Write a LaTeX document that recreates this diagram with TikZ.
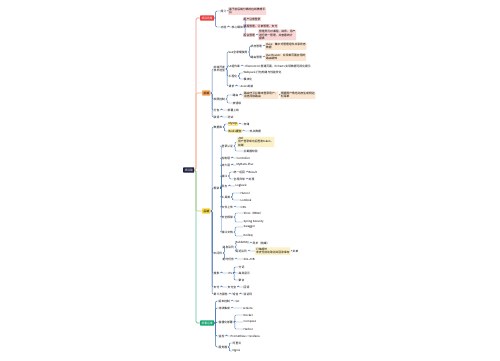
\documentclass[tikz,border=0pt]{standalone}
\usepackage{fontspec}
\newfontfamily\cjk{Noto Sans CJK SC}
\definecolor{rootc}{HTML}{1B1E3C}
\definecolor{redc}{HTML}{E83E3E}
\definecolor{orgc}{HTML}{F5A05A}
\definecolor{yelc}{HTML}{F6D33C}
\definecolor{grnc}{HTML}{16A571}
\definecolor{linkc}{HTML}{3F6DAE}
\definecolor{redl}{HTML}{FBD6D6}
\definecolor{orgl}{HTML}{FCE6CF}
\definecolor{yell}{HTML}{FCF1C6}
\definecolor{redt}{HTML}{EE9090}
\definecolor{orgt}{HTML}{F2B88A}
\definecolor{yelt}{HTML}{E3CC66}
\definecolor{grnt}{HTML}{5DBF97}
\tikzset{
  every node/.style={font=\cjk\fontsize{2.8}{3.3}\selectfont, inner sep=0.5pt, anchor=west},
  topic/.style={inner sep=1.3pt, rounded corners=0.5pt},
  leaf/.style={align=left, inner sep=0.8pt, rounded corners=0.4pt},
  link/.style={draw=linkc, line width=0.45pt, rounded corners=1pt},
  trunk/.style={line width=0.8pt, rounded corners=1.5pt},
}
\begin{document}
\begin{tikzpicture}[x=1pt,y=-1pt]
\useasboundingbox[fill=white] (0,0) rectangle (500,360);
% root and main topics
\node[topic, fill=rootc, text=white] (root) at (183,170) {项目篇};
\node[topic, fill=redc, text=white] (bj) at (200,18) {项目背景};
\node[topic, fill=orgc] (qd) at (202,93) {前端};
\node[topic, fill=yelc] (hd) at (202,211) {后端};
\node[topic, fill=grnc, text=white] (yw) at (200,323) {部署运维};
\draw[trunk, redt] (root.east) -- ++(1.5,0) |- (bj.west);
\draw[trunk, orgt] (root.east) -- ++(1.5,0) |- (qd.west);
\draw[trunk, yelt] (root.east) -- ++(1.5,0) |- (hd.west);
\draw[trunk, grnt] (root.east) -- ++(1.5,0) |- (yw.west);

% project background
\node (r1) at (220,11) {简介};
\node[leaf, fill=redl] (r1a) at (228,11) {基于前后端分离的在线教育平\\台};
\node (r2) at (220,27) {功能};
\node (r2a) at (231,27) {核心模块};
\node[fill=redl] (r2a1) at (243,19) {用户注册登录};
\node[fill=redl] (r2a2) at (243,26) {课程管理、订单管理、支付};
\node[fill=redl] (r2a3) at (243,35) {后台管理};
\node[leaf, fill=redl] (r2a3a) at (258,35) {管理员可对课程、讲师、用户\\进行统一管理，并查看统计\\报表};
\foreach \a/\b in {bj/r1, r1/r1a, bj/r2, r2/r2a, r2a/r2a1, r2a/r2a2, r2a/r2a3, r2a3/r2a3a}
  \draw[link] (\a.east) -- ++(1.5,0) |- (\b.west);

% front end
\node[align=left] (o1) at (213,69) {前端开发\\技术选型};
\node (o1a) at (228,52) {Vue全家桶使用};
\node (o1a1) at (250,46) {状态管理};
\node[leaf, fill=orgl] (o1a1a) at (265,46) {Vuex：集中式管理组件共享状态\\数据};
\node (o1a2) at (250,57) {路由管理};
\node[leaf, fill=orgl] (o1a2a) at (265,57) {Vue Router：实现单页面应用的\\路由跳转};
\node (o1b) at (228,66) {UI组件库};
\node (o1b1) at (245,66) {Element UI 搭建页面，ECharts 实现数据可视化展示};
\node (o1c) at (228,76) {工程化};
\node (o1c1) at (243,73) {Webpack 打包构建与性能优化};
\node (o1c2) at (243,79) {模块化};
\node (o1d) at (228,86) {请求};
\node (o1d1) at (240,86) {Axios封装};
\node (o2) at (213,99) {权限控制};
\node (o2a) at (232,95) {路由};
\node[leaf, fill=orgl] (o2a1) at (243,95) {路由守卫拦截未登录用户，\\动态添加路由};
\node[leaf, fill=orgl] (o2a2) at (280,95) {根据用户角色动态生成侧边\\栏菜单};
\node (o2b) at (232,103) {按钮级};
\node (o3) at (213,110) {打包};
\node (o3a) at (227,110) {部署上线};
\node (o4) at (213,117) {联调};
\node (o4a) at (227,117) {测试};
\foreach \a/\b in {qd/o1, o1/o1a, o1a/o1a1, o1a1/o1a1a, o1a/o1a2, o1a2/o1a2a,
    o1/o1b, o1b/o1b1, o1/o1c, o1c/o1c1, o1c/o1c2, o1/o1d, o1d/o1d1,
    qd/o2, o2/o2a, o2a/o2a1, o2a1/o2a2, o2/o2b, qd/o3, o3/o3a, qd/o4, o4/o4a}
  \draw[link] (\a.east) -- ++(1.5,0) |- (\b.west);

% back end
\node (y1) at (213,127) {数据库};
\node[fill=yelc!55] (y1a) at (228,124) {MySQL};
\node (y1a1) at (243,124) {存储};
\node[fill=yelc!55] (y1b) at (228,131) {Redis缓存};
\node (y1b1) at (249,131) {热点数据};
\node (y2) at (213,188) {框架};
\node (y2a) at (221,146) {登录认证};
\node[leaf, fill=yell] (y2a1) at (237,142) {JWT\\用户登录成功后签发token，\\前端};
\node (y2a2) at (243,151) {拦截器校验};
\node (y2b) at (221,158) {控制层};
\node (y2b1) at (236,158) {Controller};
\node (y2c) at (221,165) {持久层};
\node (y2c1) at (236,165) {MyBatis-Plus};
\node (y2d) at (221,176) {接口};
\node (y2d1) at (233,172) {统一返回};
\node (y2d1a) at (248,172) {Result};
\node (y2d2) at (233,179) {全局异常};
\node (y2d2a) at (248,179) {处理};
\node (y2e) at (221,186) {日志};
\node (y2e1) at (235,186) {Logback};
\node (y2f) at (221,197) {工具类};
\node (y2f1) at (240,193) {Hutool};
\node (y2f2) at (240,200) {Lombok};
\node (y2g) at (221,207) {文件上传};
\node (y2g1) at (240,207) {OSS};
\node (y2h) at (221,217) {安全框架};
\node (y2h1) at (243,213) {Shiro（RBAC）};
\node (y2h2) at (243,222) {Spring Security};
\node (y2i) at (221,232) {接口文档};
\node (y2i1) at (243,227) {Swagger};
\node (y2i2) at (243,236) {Knife4j};
\node (y3) at (213,253) {中间件};
\node (y3a) at (222,247) {消息队列};
\node (y3a1) at (235,243) {RabbitMQ};
\node (y3a1a) at (252,243) {异步（削峰）};
\node (y3a2) at (235,251) {延迟队列};
\node[leaf, fill=yell] (y3a2a) at (255,251) {订单超时\\未支付自动取消并回滚库存};
\node (y3a2b) at (292,251) {关单};
\node (y3b) at (222,259) {定时任务};
\node (y3b1) at (243,259) {XXL-JOB};
\node (y4) at (213,273) {搜索};
\node (y4a) at (228,273) {ES};
\node (y4a1) at (238,267) {分词};
\node (y4a2) at (238,273) {高亮显示};
\node (y4a3) at (238,280) {聚合};
\node (y5) at (213,287) {支付};
\node (y5a) at (227,287) {支付宝};
\node (y5b) at (243,287) {回调};
\node (y6) at (213,294) {第三方服务};
\node (y6a) at (232,294) {短信};
\node (y6b) at (243,294) {验证码};
\foreach \a/\b in {hd/y1, y1/y1a, y1a/y1a1, y1/y1b, y1b/y1b1,
    hd/y2, y2/y2a, y2a/y2a1, y2a/y2a2, y2/y2b, y2b/y2b1, y2/y2c, y2c/y2c1,
    y2/y2d, y2d/y2d1, y2d1/y2d1a, y2d/y2d2, y2d2/y2d2a, y2/y2e, y2e/y2e1,
    y2/y2f, y2f/y2f1, y2f/y2f2, y2/y2g, y2g/y2g1, y2/y2h, y2h/y2h1, y2h/y2h2,
    y2/y2i, y2i/y2i1, y2i/y2i2,
    hd/y3, y3/y3a, y3a/y3a1, y3a1/y3a1a, y3a/y3a2, y3a2/y3a2a, y3a2a/y3a2b, y3/y3b, y3b/y3b1,
    hd/y4, y4/y4a, y4a/y4a1, y4a/y4a2, y4a/y4a3, hd/y5, y5/y5a, y5a/y5b, hd/y6, y6/y6a, y6a/y6b}
  \draw[link] (\a.east) -- ++(1.5,0) |- (\b.west);

% deployment
\node (g1) at (218,301) {版本控制};
\node (g1a) at (235,301) {Git};
\node (g2) at (218,308) {持续集成};
\node (g2a) at (242,308) {Jenkins};
\node (g3) at (218,322) {容器化部署};
\node (g3a) at (243,315) {Docker};
\node (g3b) at (243,322) {Compose};
\node (g3c) at (243,329) {Harbor};
\node (g4) at (218,336) {监控};
\node (g4a) at (230,336) {Prometheus + Grafana};
\node (g5) at (218,347) {服务器};
\node (g5a) at (232,343) {阿里云};
\node (g5b) at (232,351) {Nginx};
\foreach \a/\b in {yw/g1, g1/g1a, yw/g2, g2/g2a, yw/g3, g3/g3a, g3/g3b, g3/g3c,
    yw/g4, g4/g4a, yw/g5, g5/g5a, g5/g5b}
  \draw[link] (\a.east) -- ++(1.5,0) |- (\b.west);
\end{tikzpicture}
\end{document}
